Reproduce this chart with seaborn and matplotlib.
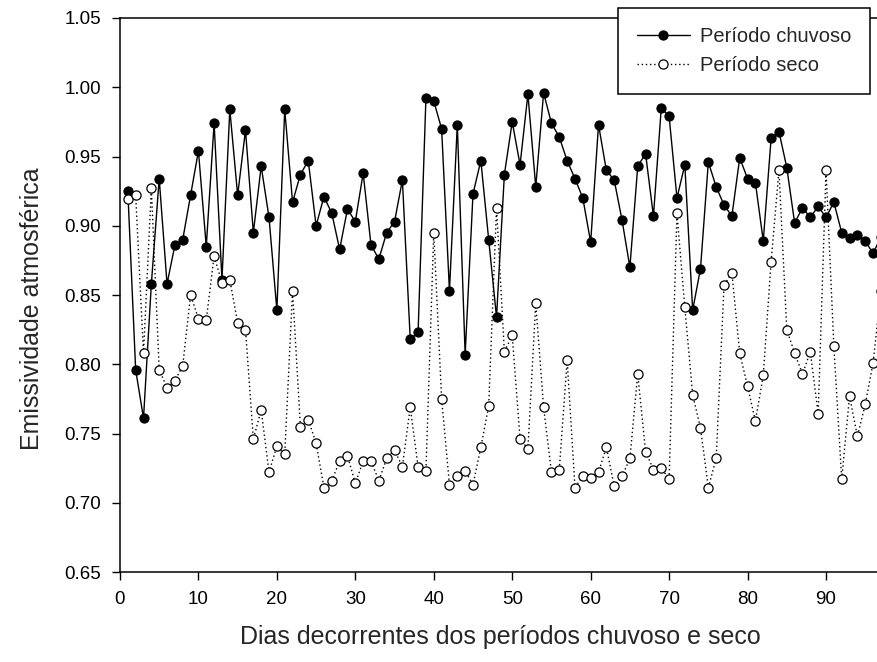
import matplotlib
matplotlib.use("Agg")
import matplotlib.pyplot as plt
import seaborn as sns
import numpy as np
import pandas as pd

# ---- data ----
days = list(range(1, 98))

chuvoso = [
    0.925, 0.796, 0.761, 0.858, 0.934, 0.858, 0.886, 0.890, 0.922, 0.954,
    0.885, 0.974, 0.861, 0.984, 0.922, 0.969, 0.895, 0.943, 0.906, 0.839,
    0.984, 0.917, 0.937, 0.947, 0.900, 0.921, 0.909, 0.883, 0.912, 0.903,
    0.938, 0.886, 0.876, 0.895, 0.903, 0.933, 0.818, 0.823, 0.992, 0.990,
    0.970, 0.853, 0.973, 0.807, 0.923, 0.947, 0.890, 0.834, 0.937, 0.975,
    0.944, 0.995, 0.928, 0.996, 0.974, 0.964, 0.947, 0.934, 0.920, 0.888,
    0.973, 0.940, 0.933, 0.904, 0.870, 0.943, 0.952, 0.907, 0.985, 0.979,
    0.920, 0.944, 0.839, 0.869, 0.946, 0.928, 0.915, 0.907, 0.949, 0.934,
    0.931, 0.889, 0.963, 0.968, 0.942, 0.902, 0.913, 0.906, 0.914, 0.906,
    0.917, 0.895, 0.891, 0.893, 0.889, 0.880, 0.892,
]

seco = [
    0.919, 0.922, 0.808, 0.927, 0.796, 0.783, 0.788, 0.799, 0.850, 0.833,
    0.832, 0.878, 0.859, 0.861, 0.830, 0.825, 0.746, 0.767, 0.722, 0.741,
    0.735, 0.853, 0.755, 0.760, 0.743, 0.711, 0.716, 0.730, 0.734, 0.714,
    0.730, 0.730, 0.716, 0.732, 0.738, 0.726, 0.769, 0.726, 0.723, 0.895,
    0.775, 0.713, 0.719, 0.723, 0.713, 0.740, 0.770, 0.913, 0.809, 0.821,
    0.746, 0.739, 0.844, 0.769, 0.722, 0.724, 0.803, 0.711, 0.719, 0.718,
    0.722, 0.740, 0.712, 0.719, 0.732, 0.793, 0.737, 0.724, 0.725, 0.717,
    0.909, 0.841, 0.778, 0.754, 0.711, 0.732, 0.857, 0.866, 0.808, 0.784,
    0.759, 0.792, 0.874, 0.940, 0.825, 0.808, 0.793, 0.809, 0.764, 0.940,
    0.813, 0.717, 0.777, 0.748, 0.771, 0.801, 0.853,
]

series_labels = ["Período chuvoso", "Período seco"]
x_ticks = [0, 10, 20, 30, 40, 50, 60, 70, 80, 90]
y_ticks = [0.65, 0.70, 0.75, 0.80, 0.85, 0.90, 0.95, 1.00, 1.05]
x_label = "Dias decorrentes dos períodos chuvoso e seco"
y_label = "Emissividade atmosférica"

# ---- style ----
sns.set_style("ticks")
plt.rcParams["font.family"] = ["Liberation Sans", "DejaVu Sans"]
plt.rcParams["axes.linewidth"] = 1.1

fig = plt.figure(figsize=(8.77, 6.62), dpi=100)
ax = fig.add_axes([0.1368, 0.13595, 0.8650, 0.83686])

df_c = pd.DataFrame({"dia": days, "emissividade": chuvoso})
df_s = pd.DataFrame({"dia": days, "emissividade": seco})

sns.lineplot(data=df_c, x="dia", y="emissividade", ax=ax, color="black",
             linewidth=1.0, marker="o", markersize=6.6,
             markerfacecolor="black", markeredgecolor="black",
             markeredgewidth=0.8, label=series_labels[0], legend=False)
sns.lineplot(data=df_s, x="dia", y="emissividade", ax=ax, color="black",
             linewidth=1.0, linestyle=(0, (1, 2)), marker="o", markersize=6.6,
             markerfacecolor="white", markeredgecolor="black",
             markeredgewidth=0.9, label=series_labels[1], legend=False)

ax.set_xlim(0, 96.7)
ax.set_ylim(0.65, 1.05)
ax.set_xticks(x_ticks)
ax.set_yticks(y_ticks)
ax.set_yticklabels([f"{v:.2f}" for v in y_ticks])
ax.tick_params(axis="both", direction="out", length=5.5, width=1.0,
               labelsize=13.5, pad=8.0, colors="black")
ax.tick_params(top=False, right=False)

for side in ["left", "bottom", "top"]:
    ax.spines[side].set_visible(True)
    ax.spines[side].set_color("black")
ax.spines["right"].set_visible(False)

ax.set_xlabel(x_label, fontsize=18)
ax.set_ylabel(y_label, fontsize=18)
ax.xaxis.set_label_coords(0.502, -0.096)
ax.yaxis.set_label_coords(-0.1, 0.475)

handles = ax.get_lines()[:2]
leg = ax.legend(handles=handles, labels=series_labels, loc="upper right",
                bbox_to_anchor=(0.989, 1.018), borderaxespad=0,
                fontsize=14.5, frameon=True, fancybox=False, framealpha=1,
                edgecolor="black", handlelength=2.6, handletextpad=0.5,
                borderpad=0.95, labelspacing=0.5, numpoints=1)
leg.get_frame().set_linewidth(1.1)
leg.set_zorder(10)

fig.savefig("out.png", dpi=100)
